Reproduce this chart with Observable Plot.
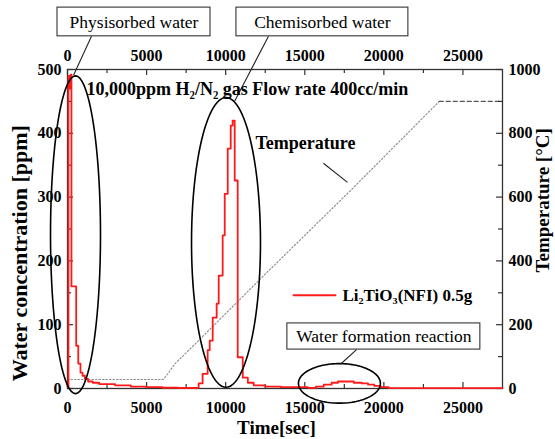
<!DOCTYPE html>
<html>
<head>
<meta charset="utf-8">
<script src="https://cdn.jsdelivr.net/npm/d3@7"></script>
<script src="https://cdn.jsdelivr.net/npm/@observablehq/plot@0.6"></script>
<style>
  html, body { margin: 0; padding: 0; background: white; overflow: hidden; }
</style>
</head>
<body>
<div id="chart"></div>
<script>
// ---- Water concentration (ppm) vs time (s), stepped trace ----
const waterTime = [0, 60, 150, 200, 250, 550, 680, 820, 950, 1100, 1300, 1600, 2000, 3000, 4000, 5000, 6000, 7000, 8000,
  8290, 8540, 8860, 8990, 9180, 9430, 9560, 9810, 9940, 10130, 10320, 10440, 10570, 10760, 11080, 11400, 11770, 12500, 13500,
  15200, 15700, 16200, 16700, 17100, 17600, 18100, 18600, 19000, 19400, 19800, 20300, 27500];
const waterPpm = [3, 490, 470, 492, 160, 67, 39, 25, 20, 15, 11, 9, 7, 5, 3, 2, 1.2, 0.8, 1,
  8, 23, 60, 75, 111, 133, 177, 240, 305, 376, 412, 420, 326, 49, 17, 9, 5, 3, 2,
  1, 3, 6, 9, 11, 11, 9, 8, 6, 4, 2, 0.5, 0.5];

// ---- Temperature (°C) vs time (s) ----
const tempTime = [0, 6050, 6400, 6800, 8100, 12530, 17900, 23500, 27500];
const tempC = [28, 28, 50, 78, 141, 360, 621, 900, 900];
const holdStart = 23500;

// ---- Axis ticks ----
const xMajor = [0, 5000, 10000, 15000, 20000, 25000];
const xMinor = [2500, 7500, 12500, 17500, 22500];
const yMajor = [0, 100, 200, 300, 400, 500];
const yMinor = [50, 150, 250, 350, 450];
const tMajor = [0, 200, 400, 600, 800, 1000];
const tMinor = [100, 300, 500, 700, 900];

// ---- Annotations (data units: seconds, ppm) ----
const ellipseX = [506, 10020, 17190];
const ellipseY = [241, 229, 8];
const ellipseRx = [1580, 2180, 2590];
const ellipseRy = [249, 227, 31];

const boxLabels = ["Physisorbed water", "Chemisorbed water", "Water formation reaction"];
const boxX1 = [-632, 10680, 13900];
const boxX2 = [9040, 21550, 26100];
const boxY1 = [552, 552, 61];
const boxY2 = [597, 597, 102];

const leaderX1 = [1517, 12705, 18270, 16180];
const leaderY1 = [552, 552, 61, 353];
const leaderX2 = [380, 10556, 17260, 17700];
const leaderY2 = [491, 450, 38, 323];

const legendLabel = "Li₂TiO₃(NFI) 0.5g";
const legendX = [14290, 16940];
const legendY = 146;

const conditionText = "10,000ppm H₂/N₂ gas Flow rate 400cc/min";
const tempLabel = "Temperature";

// temperature maps onto the ppm axis: 1000 °C <-> 500 ppm
const tScale = 500 / 1000;

const water = waterTime.map((t, i) => ({t, v: waterPpm[i]}));
const temp = tempTime.map((t, i) => ({t, v: tempC[i] * tScale}));
const tempRamp = temp.filter(d => d.t <= holdStart);
const tempHold = temp.filter(d => d.t >= holdStart);

const ellipses = [];
ellipseX.forEach((cx, i) => {
  for (let k = 0; k <= 120; k++) {
    const a = (k / 120) * 2 * Math.PI;
    ellipses.push({id: i, t: cx + ellipseRx[i] * Math.cos(a), v: ellipseY[i] + ellipseRy[i] * Math.sin(a)});
  }
});
const boxes = boxLabels.map((label, i) => ({label, x1: boxX1[i], x2: boxX2[i], y1: boxY1[i], y2: boxY2[i]}));
const leaders = leaderX1.map((x1, i) => ({x1, y1: leaderY1[i], x2: leaderX2[i], y2: leaderY2[i]}));

const tick = 6 / 0.638;      // ~6px in ppm units
const tickMinor = 4 / 0.638;
const tickX = 6 / 0.01582;   // ~6px in seconds
const tickXMinor = 4 / 0.01582;

const serif = "'Liberation Serif', 'Times New Roman', serif";

const chart = Plot.plot({
  width: 555,
  height: 439,
  marginLeft: 67,
  marginRight: 53,
  marginTop: 69,
  marginBottom: 51,
  x: {domain: [0, 27500]},
  y: {domain: [0, 500]},
  style: {fontFamily: serif, fontSize: "16px", fontWeight: "bold", background: "white", color: "black"},
  marks: [
    // temperature
    Plot.line(tempRamp, {x: "t", y: "v", stroke: "#8a8a8a", strokeWidth: 1.1, strokeDasharray: "1.5,2"}),
    Plot.line(tempHold, {x: "t", y: "v", stroke: "#555", strokeWidth: 1.3, strokeDasharray: "4,3"}),
    // frame & ticks
    Plot.frame({stroke: "#333", strokeWidth: 1.3}),
    Plot.ruleX(xMajor, {x: d => d, y1: 0, y2: tick, stroke: "#333", strokeWidth: 1.2}),
    Plot.ruleX(xMinor, {x: d => d, y1: 0, y2: tickMinor, stroke: "#333", strokeWidth: 1.2}),
    Plot.ruleX(xMajor, {x: d => d, y1: 500 - tick, y2: 500, stroke: "#333", strokeWidth: 1.2}),
    Plot.ruleX(xMinor, {x: d => d, y1: 500 - tickMinor, y2: 500, stroke: "#333", strokeWidth: 1.2}),
    Plot.ruleY(yMajor, {y: d => d, x1: 0, x2: tickX, stroke: "#333", strokeWidth: 1.2}),
    Plot.ruleY(yMinor, {y: d => d, x1: 0, x2: tickXMinor, stroke: "#333", strokeWidth: 1.2}),
    Plot.ruleY(tMajor, {y: d => d * tScale, x1: 27500 - tickX, x2: 27500, stroke: "#333", strokeWidth: 1.2}),
    Plot.ruleY(tMinor, {y: d => d * tScale, x1: 27500 - tickXMinor, x2: 27500, stroke: "#333", strokeWidth: 1.2}),
    // tick labels
    Plot.axisX(xMajor, {anchor: "bottom", tickSize: 0, tickPadding: 13, fontSize: 16, tickFormat: d => String(d), label: null}),
    Plot.axisX(xMajor, {anchor: "top", tickSize: 0, tickPadding: 9, fontSize: 16, tickFormat: d => String(d), label: null}),
    Plot.axisY(yMajor, {anchor: "left", tickSize: 0, tickPadding: 6, fontSize: 16, tickFormat: d => String(d), label: null}),
    Plot.axisY(tMajor.map(d => d * tScale), {anchor: "right", tickSize: 0, tickPadding: 6, fontSize: 16, tickFormat: d => String(Math.round(d / tScale)), label: null}),
    // axis titles
    Plot.text([{t: -3000, v: 212}], {x: "t", y: "v", text: () => "Water concentration [ppm]", rotate: -90, fontSize: 22, clip: false}),
    Plot.text([{t: 30050, v: 295}], {x: "t", y: "v", text: () => "Temperature [°C]", rotate: -90, fontSize: 19, clip: false}),
    Plot.text([{t: 13210, v: -61}], {x: "t", y: "v", text: () => "Time[sec]", fontSize: 19, clip: false}),
    // water trace
    Plot.line(water, {x: "t", y: "v", stroke: "#ff1a1a", strokeWidth: 1.8, curve: "step-after"}),
    // annotations
    Plot.line(ellipses, {x: "t", y: "v", z: "id", stroke: "black", strokeWidth: 1.6, clip: false}),
    Plot.rect(boxes, {x1: "x1", x2: "x2", y1: "y1", y2: "y2", fill: "white", stroke: "#333", strokeWidth: 1.1, clip: false}),
    Plot.text(boxes, {x: d => (d.x1 + d.x2) / 2, y: d => (d.y1 + d.y2) / 2, text: "label", fontSize: 17.5, fontWeight: "normal", clip: false}),
    Plot.link(leaders, {x1: "x1", y1: "y1", x2: "x2", y2: "y2", stroke: "#222", strokeWidth: 1.1, clip: false}),
    Plot.text([{t: 1200, v: 469}], {x: "t", y: "v", text: () => conditionText, textAnchor: "start", fontSize: 18}),
    Plot.text([{t: 11880, v: 384}], {x: "t", y: "v", text: () => tempLabel, textAnchor: "start", fontSize: 18}),
    Plot.line(legendX.map(t => ({t, v: legendY})), {x: "t", y: "v", stroke: "#ff1a1a", strokeWidth: 2}),
    Plot.text([{t: 17380, v: legendY}], {x: "t", y: "v", text: () => legendLabel, textAnchor: "start", fontSize: 17})
  ]
});
document.getElementById("chart").appendChild(chart);
</script>
</body>
</html>
